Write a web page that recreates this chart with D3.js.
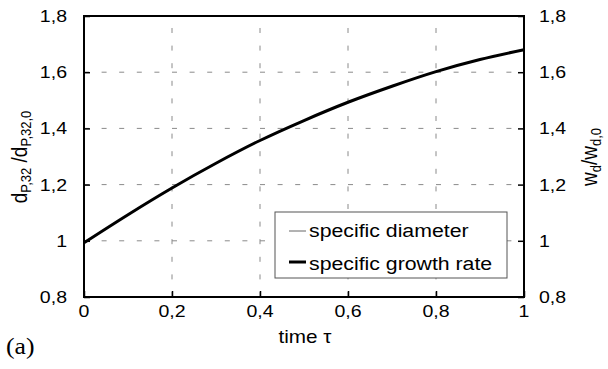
<!DOCTYPE html>
<html><head><meta charset="utf-8">
<script src="https://cdn.jsdelivr.net/npm/d3@7"></script>
<style>body{margin:0;background:#fff}svg{display:block}</style>
</head><body>
<svg id="c" width="608" height="369"></svg>
<script>
const tau = [0, 0.1, 0.2, 0.3, 0.4, 0.5, 0.6, 0.7, 0.8, 0.9, 1.0];
const specificDiameter = [0.993, 1.093, 1.188, 1.276, 1.357, 1.428, 1.493, 1.550, 1.602, 1.645, 1.680];
const specificGrowthRate = [0.993, 1.093, 1.188, 1.276, 1.357, 1.428, 1.493, 1.550, 1.602, 1.645, 1.680];
const xTicks = [0, 0.2, 0.4, 0.6, 0.8, 1];
const yTicks = [0.8, 1, 1.2, 1.4, 1.6, 1.8];
const legendLabels = ["specific diameter", "specific growth rate"];

const svg = d3.select("#c");
const L = 84, R = 524, T = 16, B = 297;
const x = d3.scaleLinear().domain([0, 1]).range([L, R]);
const y = d3.scaleLinear().domain([0.8, 1.8]).range([B, T]);
const fmt = d => String(d).replace(".", ",");
const font = "Liberation Sans, Arial, sans-serif";
const SX = 1.15;

// grid
const g = svg.append("g");
g.selectAll(".vg").data(xTicks.filter(d => d > 0 && d < 1)).enter().append("line")
  .attr("x1", d => x(d)).attr("x2", d => x(d)).attr("y1", B).attr("y2", T)
  .attr("stroke", "#8a8a8a").attr("stroke-width", 1).attr("stroke-dasharray", "5,12.6");
g.selectAll(".hg").data(yTicks.filter(d => d > 0.8 && d < 1.8)).enter().append("line")
  .attr("x1", L).attr("x2", R).attr("y1", d => y(d)).attr("y2", d => y(d))
  .attr("stroke", "#8a8a8a").attr("stroke-width", 1).attr("stroke-dasharray", "5,12.6");

// axes (tick marks)
function styleAxis(sel){
  sel.select(".domain").remove();
  sel.selectAll(".tick line").attr("stroke", "#000").attr("stroke-width", 1.5);
  sel.selectAll(".tick text").remove();
}
svg.append("g").attr("transform", `translate(0,${B})`)
  .call(d3.axisBottom(x).tickValues(xTicks).tickSizeInner(-6).tickSizeOuter(0)).call(styleAxis);
svg.append("g").attr("transform", `translate(${L},0)`)
  .call(d3.axisLeft(y).tickValues(yTicks).tickSizeInner(-6).tickSizeOuter(0)).call(styleAxis);
svg.append("g").attr("transform", `translate(${R},0)`)
  .call(d3.axisRight(y).tickValues(yTicks).tickSizeInner(-6).tickSizeOuter(0)).call(styleAxis);

// tick labels (horizontally stretched like the reference)
function label(px, py, txt, anchor, size, sx){
  return svg.append("text").attr("transform", `translate(${px},${py}) scale(${sx},1)`)
    .attr("text-anchor", anchor).attr("font-family", font).attr("font-size", size)
    .attr("fill", "#000").text(txt);
}
xTicks.forEach(d => label(x(d), 317, fmt(d), "middle", 17, SX));
yTicks.forEach(d => label(67, y(d) + 6, fmt(d), "end", 17, SX));
yTicks.forEach(d => label(539, y(d) + 6, fmt(d), "start", 17, SX));

// frame
svg.append("rect").attr("x", L).attr("y", T).attr("width", R - L).attr("height", B - T)
  .attr("fill", "none").attr("stroke", "#000").attr("stroke-width", 2);

// lines
const line = d3.line().x((d, i) => x(tau[i])).y(d => y(d)).curve(d3.curveCatmullRom);
svg.append("path").datum(specificDiameter).attr("d", line).attr("fill", "none").attr("stroke", "#000").attr("stroke-width", 1);
svg.append("path").datum(specificGrowthRate).attr("d", line).attr("fill", "none").attr("stroke", "#000").attr("stroke-width", 3);

// legend
const lg = svg.append("g");
lg.append("rect").attr("x", 275).attr("y", 212).attr("width", 232).attr("height", 66)
  .attr("fill", "#fff").attr("stroke", "#555").attr("stroke-width", 1);
const widths = [1, 3];
const lineY = [231, 262];
const textY = [237, 270];
legendLabels.forEach((t, i) => {
  lg.append("line").attr("x1", 289).attr("x2", 306).attr("y1", lineY[i]).attr("y2", lineY[i])
    .attr("stroke", i === 0 ? "#666" : "#000").attr("stroke-width", widths[i]);
  lg.append("text").attr("transform", `translate(309,${textY[i]}) scale(1.12,1)`).text(t)
    .attr("font-family", font).attr("font-size", 19).attr("fill", "#000");
});

// axis titles
label(305, 343, "time τ", "middle", 18, 1.15);

const yl = svg.append("text").attr("transform", "translate(27,157) rotate(-90) scale(1,1.18)").attr("text-anchor", "middle")
  .attr("font-family", font).attr("font-size", 19);
yl.append("tspan").text("d");
yl.append("tspan").attr("dy", 3).attr("font-size", 13).text("P,32");
yl.append("tspan").attr("dy", -3).text(" /d");
yl.append("tspan").attr("dy", 3).attr("font-size", 13).text("P,32,0");

const yr = svg.append("text").attr("transform", "translate(597,157) rotate(-90) scale(1,1.18)").attr("text-anchor", "middle")
  .attr("font-family", font).attr("font-size", 19);
yr.append("tspan").text("w");
yr.append("tspan").attr("dy", 3).attr("font-size", 13).text("d");
yr.append("tspan").attr("dy", -3).text("/w");
yr.append("tspan").attr("dy", 3).attr("font-size", 13).text("d,0");

svg.append("text").attr("transform", "translate(6,354) scale(1.12,1)").attr("font-family", "Liberation Serif, Times New Roman, serif")
  .attr("font-size", 23).text("(a)");
</script>
</body></html>
